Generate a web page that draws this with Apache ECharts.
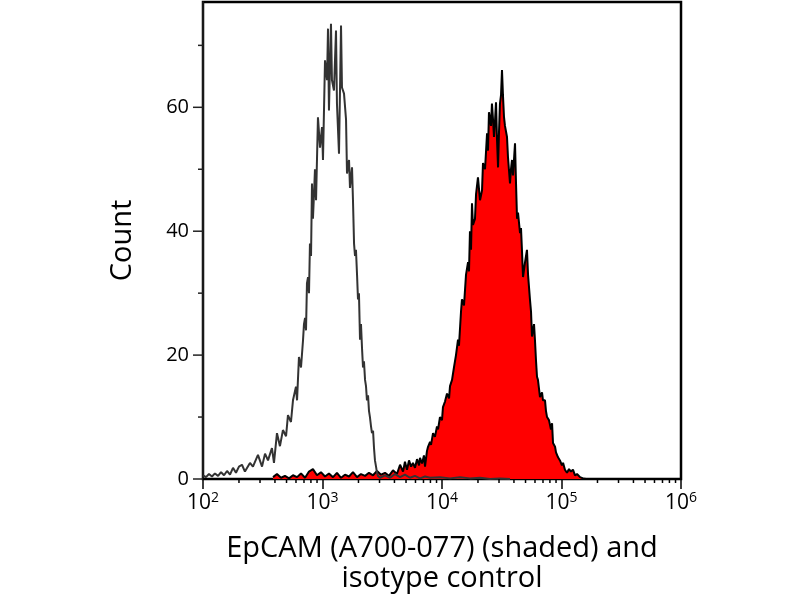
<!DOCTYPE html>
<html>
<head>
<meta charset="utf-8">
<script src="https://cdn.jsdelivr.net/npm/echarts@6/dist/echarts.min.js"></script>
<style>html,body{margin:0;padding:0;background:#fff}#c{width:800px;height:600px}</style>
</head>
<body>
<div id="c"></div>
<script>
// Isotype control histogram (log10 fluorescence intensity, count)
const isoLogIntensity = [2.000,2.025,2.050,2.075,2.100,2.126,2.151,2.176,2.201,2.226,2.251,2.276,2.301,2.326,2.351,2.393,2.418,2.460,2.494,2.519,2.544,2.577,2.594,2.619,2.644,2.669,2.695,2.711,2.736,2.753,2.778,2.787,2.803,2.820,2.837,2.845,2.854,2.862,2.870,2.879,2.887,2.895,2.904,2.912,2.920,2.929,2.937,2.946,2.962,2.979,2.996,3.004,3.021,3.038,3.046,3.054,3.071,3.079,3.096,3.113,3.121,3.138,3.155,3.163,3.180,3.197,3.205,3.222,3.230,3.247,3.255,3.264,3.272,3.280,3.289,3.297,3.305,3.314,3.322,3.331,3.339,3.347,3.356,3.364,3.372,3.381,3.389,3.397,3.406,3.414,3.423,3.431,3.439,3.448,3.456,3.464,3.481,3.523,3.565,3.607,3.649,3.690,3.732,3.774,3.816,3.858,3.900,3.983,4.067,4.151,4.234,4.318,4.402,4.485,4.569];
const isoCount = [0.6,0.3,0.8,0.4,0.9,0.5,1.1,0.6,1.3,0.7,1.8,1.0,2.0,2.3,1.2,2.6,2.0,3.9,2.0,4.1,3.0,5.0,2.6,7.4,5.3,7.9,6.9,10.3,9.2,12.7,14.9,12.7,19.7,18.0,22.4,25.0,26.0,24.0,31.6,32.6,30.0,38.0,36.0,47.7,42.0,46.0,50.0,45.0,58.4,53.5,56.8,51.5,67.6,64.4,72.7,59.5,73.5,64.4,62.7,72.4,60.6,52.5,73.2,63.2,62.2,58.0,49.3,51.5,47.0,50.3,45.0,38.0,36.0,37.0,33.0,29.0,30.0,22.5,25.0,21.0,18.0,19.0,16.0,15.0,12.7,13.5,11.0,10.0,8.5,7.4,7.8,5.0,3.0,2.0,1.0,0.5,0.2,0.6,0.2,0.8,0.3,0.7,0.2,0.5,0.1,0.4,0.2,0.3,0.1,0.3,0.1,0.2,0.0,0.1,0.0];

// EpCAM (A700-077) stained histogram (log10 fluorescence intensity, count)
const epLogIntensity = [2.586,2.619,2.653,2.686,2.720,2.753,2.787,2.820,2.854,2.887,2.920,2.954,2.987,3.021,3.054,3.088,3.121,3.155,3.188,3.222,3.255,3.289,3.322,3.356,3.389,3.423,3.456,3.490,3.523,3.556,3.590,3.623,3.649,3.674,3.690,3.707,3.724,3.741,3.757,3.774,3.791,3.808,3.816,3.833,3.849,3.858,3.874,3.883,3.900,3.908,3.925,3.941,3.958,3.967,3.983,4.000,4.008,4.025,4.042,4.059,4.067,4.084,4.100,4.117,4.134,4.142,4.159,4.167,4.184,4.201,4.218,4.226,4.234,4.243,4.251,4.259,4.276,4.285,4.301,4.318,4.335,4.343,4.360,4.377,4.385,4.393,4.410,4.418,4.427,4.435,4.444,4.452,4.460,4.469,4.477,4.485,4.494,4.502,4.510,4.519,4.527,4.544,4.552,4.569,4.577,4.586,4.594,4.611,4.619,4.628,4.636,4.653,4.661,4.669,4.678,4.695,4.711,4.720,4.736,4.745,4.753,4.770,4.778,4.787,4.795,4.803,4.820,4.837,4.845,4.862,4.870,4.879,4.895,4.912,4.921,4.929,4.946,4.954,4.971,4.987,5.004,5.013,5.029,5.046,5.063,5.079,5.096,5.113,5.130,5.155,5.180,5.205];
const epCount = [0.3,0.8,0.2,0.5,0.1,0.6,0.3,0.9,0.2,1.2,1.6,0.6,1.1,0.4,0.9,0.3,1.0,0.2,0.7,0.4,1.1,0.3,0.8,0.5,1.0,0.6,1.3,0.7,1.0,0.5,1.4,0.8,2.3,1.2,2.8,1.5,3.0,2.0,2.6,1.8,3.2,2.2,3.4,2.5,3.8,2.0,4.5,5.2,6.0,5.5,7.4,6.8,8.5,8.0,10.0,9.5,11.6,12.5,13.8,13.0,15.0,16.0,18.0,20.0,22.5,21.5,27.0,29.0,28.0,33.0,35.0,33.5,40.0,37.0,44.5,41.0,42.0,46.0,48.7,45.0,46.6,51.0,50.0,55.8,53.0,59.2,57.0,60.6,58.0,55.2,58.0,60.8,55.0,50.3,56.0,60.6,62.0,66.0,62.0,58.4,57.0,55.2,52.0,47.7,50.0,51.5,49.0,54.2,48.0,42.0,43.0,39.7,40.5,37.0,32.6,35.0,37.0,33.0,29.0,27.0,23.0,25.0,22.4,19.0,16.5,16.0,13.2,14.0,12.7,12.7,11.0,10.0,9.5,8.0,9.0,5.8,5.2,4.3,3.5,3.0,2.2,2.6,1.5,1.0,1.6,1.2,1.5,0.6,0.8,0.3,0.1,0.0];

// Axis ticks
const xDecades = [100, 1000, 10000, 100000, 1000000];
const xMinorMultipliers = [2, 3, 4, 5, 6, 7, 8, 9];
const yMajorTicks = [0, 20, 40, 60];
const yMinorTicks = [10, 30, 50, 70];
const yMax = 77;

const xTitle = 'EpCAM (A700-077) (shaded) and\nisotype control';
const yTitle = 'Count';

const FONT = 'Open Sans';

const isoData = isoLogIntensity.map((l, i) => [Math.pow(10, l), isoCount[i]]);
const epData = epLogIntensity.map((l, i) => [Math.pow(10, l), epCount[i]]);

const xMinorData = [];
for (let d = 0; d < xDecades.length - 1; d++) {
  xMinorMultipliers.forEach(m => xMinorData.push([xDecades[d] * m, 0, 4]));
}
const yTickData = yMajorTicks.map(v => [xDecades[0], v, 10]).concat(yMinorTicks.map(v => [xDecades[0], v, 5]));

const chart = echarts.init(document.getElementById('c'), null, {renderer: 'canvas'});
chart.setOption({
  animation: false,
  backgroundColor: '#fff',
  grid: {left: 203, right: 119, top: 2, bottom: 121, show: true, borderColor: '#000', borderWidth: 2.5, backgroundColor: 'transparent'},
  xAxis: {
    type: 'log', logBase: 10, min: xDecades[0], max: xDecades[xDecades.length - 1],
    name: xTitle, nameLocation: 'middle', nameGap: 55,
    nameTextStyle: {fontFamily: FONT, fontSize: 29, color: '#000', lineHeight: 30},
    axisLine: {show: true, lineStyle: {color: '#000', width: 1.5}},
    axisTick: {show: true, length: 10, lineStyle: {color: '#000', width: 1.5}},
    splitLine: {show: false},
    axisLabel: {
      margin: 12, color: '#000', fontFamily: FONT, fontSize: 20,
      formatter: v => '{b|10}{s|' + Math.round(Math.log10(v)) + '}',
      rich: {
        b: {fontFamily: FONT, fontSize: 21, color: '#000', lineHeight: 24},
        s: {fontFamily: FONT, fontSize: 14, color: '#000', lineHeight: 24, verticalAlign: 'top', padding: [0, 0, 0, 0]}
      }
    }
  },
  yAxis: {
    type: 'value', min: 0, max: yMax, interval: 20,
    name: yTitle, nameLocation: 'middle', nameGap: 66, nameRotate: 90,
    nameTextStyle: {fontFamily: FONT, fontSize: 29, color: '#000'},
    axisLine: {show: true, lineStyle: {color: '#222', width: 1.5}},
    axisTick: {show: false},
    splitLine: {show: false},
    axisLabel: {margin: 14, color: '#000', fontFamily: FONT, fontSize: 20, showMaxLabel: false}
  },
  series: [
    {
      name: 'EpCAM', type: 'line', data: epData, showSymbol: false, symbol: 'none',
      lineStyle: {color: '#000', width: 2},
      areaStyle: {color: '#ff0000', opacity: 1},
      z: 2, silent: true
    },
    {
      name: 'Isotype', type: 'line', data: isoData, showSymbol: false, symbol: 'none',
      lineStyle: {color: '#333', width: 2},
      z: 3, silent: true
    },
    {
      type: 'custom', data: xMinorData, clip: false, silent: true, z: 5,
      encode: {x: 0, y: 1},
      renderItem: (params, api) => {
        const p = api.coord([api.value(0), api.value(1)]);
        return {type: 'line', shape: {x1: p[0], y1: p[1], x2: p[0], y2: p[1] + api.value(2)}, style: {stroke: '#000', lineWidth: 1.5}};
      }
    },
    {
      type: 'custom', data: yTickData, clip: false, silent: true, z: 5,
      encode: {x: 0, y: 1},
      renderItem: (params, api) => {
        const p = api.coord([api.value(0), api.value(1)]);
        return {type: 'line', shape: {x1: p[0], y1: p[1], x2: p[0] - api.value(2), y2: p[1]}, style: {stroke: '#222', lineWidth: 1.5}};
      }
    }
  ]
});
</script>
</body>
</html>
